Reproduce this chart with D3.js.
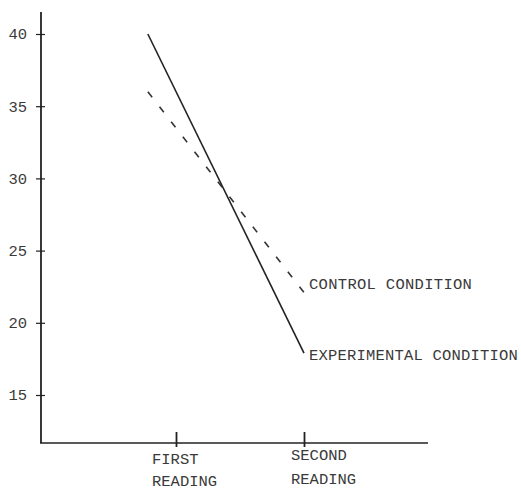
<!DOCTYPE html>
<html>
<head>
<meta charset="utf-8">
<script src="https://cdn.jsdelivr.net/npm/d3@7"></script>
<style>
  html, body { margin: 0; padding: 0; background: #fff; }
  svg { display: block; }
  text { font-family: "Liberation Mono", "DejaVu Sans Mono", monospace; fill: #3a3a3a; }
</style>
</head>
<body>
<svg id="chart" width="521" height="490"></svg>
<script>
// ---- data ----
const categories = ["FIRST\nREADING", "SECOND\nREADING"];
const categoryPos = [1, 2];
const yTicks = [15, 20, 25, 30, 35, 40];
const seriesNames = ["CONTROL CONDITION", "EXPERIMENTAL CONDITION"];
const lineX = [0.78, 2.0];            // where the drawn lines start / end on the reading axis
const controlValues = [36.0, 22.1];
const experimentalValues = [40.0, 17.9];

// ---- layout ----
const svg = d3.select("#chart");
const axisX = 41, axisBottom = 443, axisTop = 12, axisRight = 428;

const y = d3.scaleLinear().domain([15, 40]).range([395, 34]);
const x = d3.scaleLinear().domain([1, 2]).range([176, 304]);

const ink = "#222";

// y axis
const yAxis = svg.append("g")
  .attr("transform", `translate(${axisX},0)`)
  .call(d3.axisLeft(y).tickValues(yTicks).tickSize(5).tickPadding(9).tickFormat(d3.format("d")));
yAxis.select(".domain").remove();
yAxis.selectAll(".tick line").attr("x1", 4).attr("x2", -5).attr("stroke", ink).attr("stroke-width", 1.2);
yAxis.selectAll(".tick text")
  .attr("font-family", "Liberation Mono, monospace")
  .attr("font-size", 15.5)
  .attr("fill", "#444");

svg.append("line")
  .attr("x1", axisX).attr("x2", axisX)
  .attr("y1", axisTop).attr("y2", axisBottom)
  .attr("stroke", ink).attr("stroke-width", 1.8);

// x axis
svg.append("line")
  .attr("x1", axisX - 1).attr("x2", axisRight)
  .attr("y1", axisBottom).attr("y2", axisBottom)
  .attr("stroke", ink).attr("stroke-width", 1.6);

const xAxis = svg.append("g")
  .attr("transform", `translate(0,${axisBottom})`)
  .call(d3.axisBottom(x).tickValues(categoryPos).tickSize(4).tickFormat(""));
xAxis.select(".domain").remove();
xAxis.selectAll(".tick line").attr("y1", -11).attr("y2", 4).attr("stroke", ink).attr("stroke-width", 1.8);

const catLabelDx = [-24, -13];
const catLabelY = [[464, 486], [460, 484]];
categories.forEach((c, i) => {
  const parts = c.split("\n");
  parts.forEach((p, j) => {
    svg.append("text")
      .attr("x", x(categoryPos[i]) + catLabelDx[i])
      .attr("y", catLabelY[i][j])
      .attr("font-size", 15.5)
      .text(p);
  });
});

// lines
const line = d3.line().x(d => x(d[0])).y(d => y(d[1]));
const ctrl = lineX.map((v, i) => [v, controlValues[i]]);
const expt = lineX.map((v, i) => [v, experimentalValues[i]]);

svg.append("path").datum(expt)
  .attr("d", line).attr("fill", "none")
  .attr("stroke", ink).attr("stroke-width", 1.6);

svg.append("path").datum(ctrl)
  .attr("d", line).attr("fill", "none")
  .attr("stroke", "#333").attr("stroke-width", 1.6)
  .attr("stroke-dasharray", "7,12");

// series labels
svg.append("text")
  .attr("x", 309).attr("y", 289)
  .attr("font-size", 15.5)
  .attr("letter-spacing", 0.3)
  .text(seriesNames[0]);
svg.append("text")
  .attr("x", 309).attr("y", 360)
  .attr("font-size", 15.5)
  .attr("letter-spacing", 0.2)
  .text(seriesNames[1]);
</script>
</body>
</html>
